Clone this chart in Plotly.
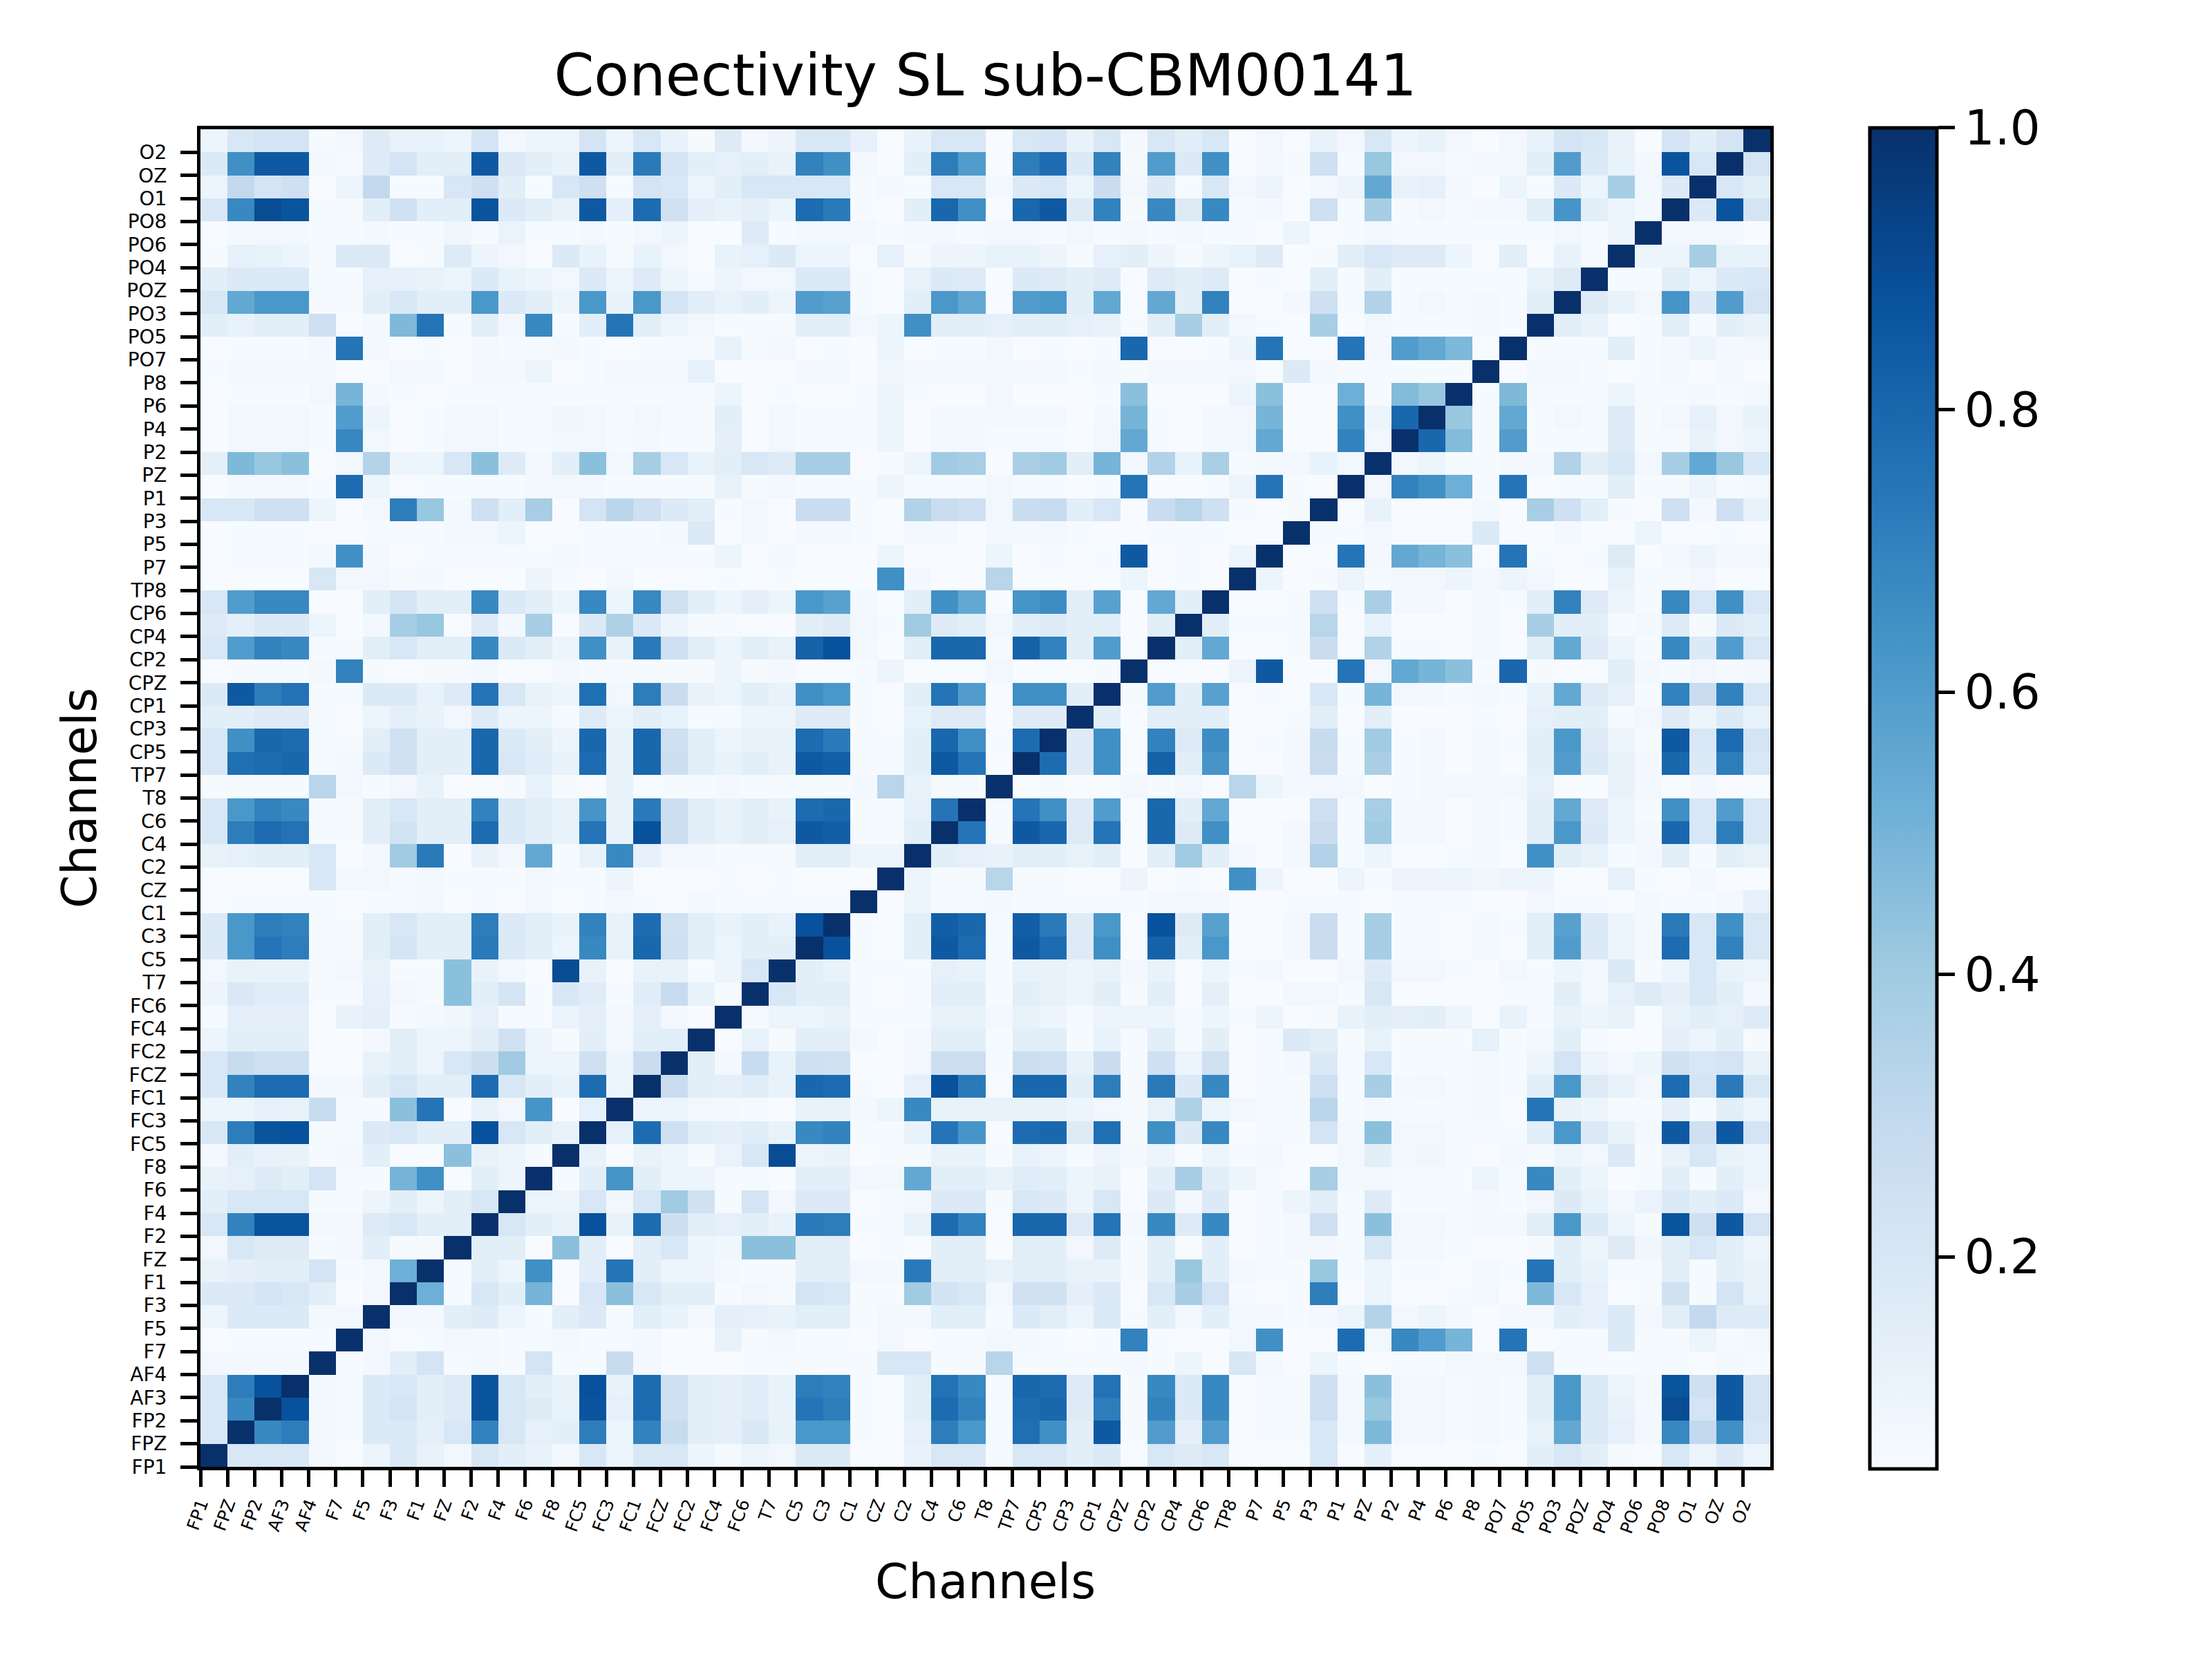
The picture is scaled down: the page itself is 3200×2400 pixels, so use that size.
import numpy as np
import plotly.graph_objects as go

channels = ["FP1", "FPZ", "FP2", "AF3", "AF4", "F7", "F5", "F3", "F1", "FZ", "F2", "F4", "F6", "F8",
            "FC5", "FC3", "FC1", "FCZ", "FC2", "FC4", "FC6", "T7", "C5", "C3", "C1", "CZ", "C2", "C4",
            "C6", "T8", "TP7", "CP5", "CP3", "CP1", "CPZ", "CP2", "CP4", "CP6", "TP8", "P7", "P5", "P3",
            "P1", "PZ", "P2", "P4", "P6", "P8", "PO7", "PO5", "PO3", "POZ", "PO4", "PO6", "PO8", "O1",
            "OZ", "O2"]

# Lower-triangle values: each row lists connectivity with all preceding channels
lt_FP1 = []
lt_FPZ = [0.20]
lt_FP2 = [0.20, 0.68]
lt_AF3 = [0.20, 0.72, 0.88]
lt_AF4 = [0.08, 0.07, 0.07, 0.07]
lt_F7 = [0.05, 0.06, 0.06, 0.06, 0.06]
lt_F5 = [0.10, 0.18, 0.18, 0.18, 0.07, 0.08]
lt_F3 = [0.18, 0.18, 0.22, 0.20, 0.15, 0.05, 0.08]
lt_F1 = [0.12, 0.14, 0.15, 0.15, 0.22, 0.06, 0.07, 0.52]
lt_FZ = [0.08, 0.20, 0.17, 0.17, 0.06, 0.08, 0.15, 0.06, 0.06]
lt_F2 = [0.20, 0.70, 0.87, 0.87, 0.07, 0.07, 0.17, 0.20, 0.15, 0.15]
lt_F4 = [0.15, 0.20, 0.20, 0.20, 0.06, 0.06, 0.10, 0.15, 0.10, 0.15, 0.20]
lt_F6 = [0.12, 0.13, 0.17, 0.15, 0.22, 0.06, 0.06, 0.50, 0.65, 0.05, 0.15, 0.10]
lt_F8 = [0.07, 0.15, 0.12, 0.12, 0.06, 0.08, 0.15, 0.05, 0.05, 0.45, 0.12, 0.10, 0.06]
lt_FC5 = [0.20, 0.72, 0.87, 0.88, 0.06, 0.06, 0.18, 0.20, 0.15, 0.15, 0.88, 0.20, 0.15, 0.12]
lt_FC3 = [0.10, 0.10, 0.13, 0.12, 0.28, 0.06, 0.06, 0.45, 0.75, 0.05, 0.12, 0.08, 0.63, 0.05, 0.13]
lt_FC1 = [0.20, 0.70, 0.78, 0.78, 0.07, 0.07, 0.15, 0.20, 0.15, 0.15, 0.78, 0.20, 0.15, 0.12, 0.78, 0.10]
lt_FCZ = [0.20, 0.28, 0.25, 0.25, 0.05, 0.05, 0.12, 0.15, 0.10, 0.20, 0.26, 0.40, 0.10, 0.10, 0.25, 0.10,
          0.27]
lt_FC2 = [0.10, 0.15, 0.15, 0.15, 0.05, 0.05, 0.07, 0.15, 0.10, 0.10, 0.15, 0.24, 0.10, 0.06, 0.15, 0.08,
          0.15, 0.15]
lt_FC4 = [0.06, 0.14, 0.14, 0.14, 0.05, 0.12, 0.14, 0.06, 0.07, 0.09, 0.13, 0.06, 0.06, 0.11, 0.14, 0.07,
          0.14, 0.07, 0.05]
lt_FC6 = [0.10, 0.19, 0.16, 0.16, 0.06, 0.06, 0.13, 0.08, 0.06, 0.45, 0.15, 0.22, 0.06, 0.20, 0.16, 0.06,
          0.16, 0.28, 0.12, 0.06]
lt_T7 = [0.08, 0.12, 0.12, 0.12, 0.06, 0.08, 0.12, 0.06, 0.06, 0.45, 0.12, 0.08, 0.05, 0.90, 0.12, 0.05,
         0.12, 0.12, 0.06, 0.10, 0.20]
lt_C5 = [0.18, 0.62, 0.75, 0.72, 0.06, 0.06, 0.15, 0.22, 0.15, 0.15, 0.73, 0.18, 0.15, 0.10, 0.68, 0.12,
         0.80, 0.25, 0.15, 0.10, 0.15, 0.15]
lt_C3 = [0.18, 0.62, 0.72, 0.70, 0.06, 0.06, 0.15, 0.20, 0.15, 0.15, 0.72, 0.18, 0.15, 0.12, 0.70, 0.12,
         0.78, 0.24, 0.15, 0.12, 0.15, 0.12, 0.88]
lt_C1 = [0.05, 0.06, 0.06, 0.06, 0.06, 0.05, 0.06, 0.06, 0.08, 0.05, 0.06, 0.05, 0.08, 0.05, 0.06, 0.07,
         0.06, 0.05, 0.07, 0.06, 0.06, 0.06, 0.06, 0.06]
lt_CZ = [0.05, 0.05, 0.05, 0.05, 0.20, 0.08, 0.08, 0.06, 0.07, 0.06, 0.06, 0.06, 0.08, 0.06, 0.06, 0.10,
         0.05, 0.05, 0.05, 0.06, 0.05, 0.06, 0.05, 0.05, 0.05]
lt_C2 = [0.12, 0.13, 0.15, 0.15, 0.20, 0.05, 0.07, 0.40, 0.73, 0.05, 0.12, 0.08, 0.55, 0.06, 0.12, 0.68,
         0.13, 0.08, 0.07, 0.06, 0.06, 0.06, 0.15, 0.15, 0.10, 0.10]
lt_C4 = [0.20, 0.72, 0.78, 0.76, 0.06, 0.06, 0.15, 0.23, 0.15, 0.15, 0.78, 0.18, 0.15, 0.12, 0.75, 0.12,
         0.88, 0.26, 0.15, 0.12, 0.15, 0.13, 0.85, 0.83, 0.06, 0.06, 0.15]
lt_C6 = [0.20, 0.62, 0.70, 0.68, 0.06, 0.06, 0.15, 0.20, 0.15, 0.15, 0.70, 0.18, 0.15, 0.12, 0.63, 0.12,
         0.73, 0.26, 0.15, 0.12, 0.15, 0.12, 0.78, 0.80, 0.06, 0.06, 0.13, 0.75]
lt_T8 = [0.06, 0.06, 0.06, 0.06, 0.33, 0.08, 0.06, 0.08, 0.12, 0.05, 0.05, 0.06, 0.12, 0.06, 0.05, 0.12,
         0.05, 0.06, 0.06, 0.07, 0.06, 0.06, 0.06, 0.06, 0.07, 0.33, 0.12, 0.06, 0.06]
lt_TP7 = [0.20, 0.77, 0.78, 0.80, 0.06, 0.07, 0.18, 0.24, 0.15, 0.15, 0.80, 0.20, 0.16, 0.12, 0.78, 0.12,
          0.80, 0.26, 0.15, 0.12, 0.15, 0.12, 0.85, 0.83, 0.06, 0.06, 0.15, 0.85, 0.75, 0.05]
lt_CP5 = [0.20, 0.65, 0.80, 0.78, 0.06, 0.06, 0.15, 0.24, 0.15, 0.15, 0.80, 0.18, 0.15, 0.10, 0.80, 0.12,
          0.80, 0.25, 0.15, 0.10, 0.12, 0.12, 0.78, 0.73, 0.06, 0.06, 0.15, 0.80, 0.65, 0.06, 0.78]
lt_CP3 = [0.15, 0.15, 0.17, 0.17, 0.06, 0.05, 0.10, 0.14, 0.12, 0.08, 0.17, 0.10, 0.10, 0.06, 0.17, 0.10,
          0.15, 0.12, 0.06, 0.06, 0.10, 0.10, 0.17, 0.17, 0.06, 0.05, 0.12, 0.17, 0.17, 0.05, 0.17, 0.17]
lt_CP1 = [0.18, 0.85, 0.72, 0.76, 0.06, 0.06, 0.18, 0.18, 0.12, 0.17, 0.75, 0.20, 0.12, 0.10, 0.77, 0.08,
          0.72, 0.27, 0.12, 0.10, 0.15, 0.12, 0.65, 0.62, 0.06, 0.05, 0.15, 0.75, 0.60, 0.05, 0.65, 0.65,
          0.15]
lt_CPZ = [0.05, 0.06, 0.06, 0.06, 0.07, 0.70, 0.06, 0.05, 0.06, 0.06, 0.07, 0.05, 0.05, 0.07, 0.06, 0.06,
          0.06, 0.06, 0.06, 0.10, 0.06, 0.07, 0.05, 0.05, 0.06, 0.10, 0.05, 0.05, 0.05, 0.08, 0.05, 0.05,
          0.05, 0.06]
lt_CP2 = [0.20, 0.60, 0.70, 0.68, 0.06, 0.06, 0.15, 0.20, 0.15, 0.15, 0.68, 0.18, 0.15, 0.10, 0.65, 0.12,
          0.73, 0.25, 0.15, 0.10, 0.15, 0.12, 0.82, 0.88, 0.07, 0.05, 0.15, 0.80, 0.80, 0.06, 0.82, 0.70,
          0.15, 0.60, 0.05]
lt_CP4 = [0.17, 0.14, 0.18, 0.18, 0.10, 0.05, 0.08, 0.38, 0.42, 0.05, 0.17, 0.07, 0.38, 0.05, 0.18, 0.36,
          0.18, 0.10, 0.06, 0.06, 0.05, 0.05, 0.15, 0.17, 0.08, 0.06, 0.40, 0.17, 0.15, 0.08, 0.15, 0.17,
          0.15, 0.15, 0.05, 0.15]
lt_CP6 = [0.20, 0.60, 0.68, 0.68, 0.05, 0.05, 0.15, 0.22, 0.15, 0.15, 0.68, 0.18, 0.15, 0.10, 0.68, 0.10,
          0.68, 0.24, 0.15, 0.10, 0.14, 0.10, 0.62, 0.58, 0.07, 0.05, 0.15, 0.65, 0.55, 0.05, 0.63, 0.66,
          0.15, 0.58, 0.05, 0.55, 0.15]
lt_TP8 = [0.05, 0.05, 0.05, 0.05, 0.20, 0.08, 0.08, 0.06, 0.07, 0.05, 0.05, 0.05, 0.10, 0.06, 0.05, 0.08,
          0.05, 0.05, 0.05, 0.06, 0.05, 0.06, 0.05, 0.05, 0.05, 0.65, 0.07, 0.05, 0.05, 0.33, 0.05, 0.05,
          0.05, 0.05, 0.10, 0.05, 0.06, 0.05]
lt_P7 = [0.05, 0.06, 0.06, 0.06, 0.07, 0.65, 0.07, 0.05, 0.06, 0.06, 0.06, 0.06, 0.06, 0.07, 0.06, 0.06,
         0.06, 0.06, 0.06, 0.10, 0.05, 0.07, 0.05, 0.05, 0.05, 0.10, 0.05, 0.05, 0.05, 0.10, 0.05, 0.06,
         0.05, 0.06, 0.85, 0.05, 0.06, 0.05, 0.10]
lt_P5 = [0.05, 0.06, 0.06, 0.06, 0.05, 0.05, 0.06, 0.06, 0.06, 0.07, 0.07, 0.10, 0.05, 0.05, 0.06, 0.06,
         0.06, 0.07, 0.18, 0.05, 0.08, 0.05, 0.07, 0.07, 0.06, 0.05, 0.07, 0.07, 0.05, 0.07, 0.07, 0.07,
         0.06, 0.05, 0.05, 0.06, 0.06, 0.06, 0.05, 0.05]
lt_P3 = [0.20, 0.20, 0.25, 0.25, 0.10, 0.05, 0.07, 0.72, 0.42, 0.07, 0.25, 0.15, 0.38, 0.05, 0.22, 0.32,
         0.25, 0.18, 0.15, 0.06, 0.08, 0.05, 0.27, 0.27, 0.06, 0.05, 0.35, 0.27, 0.25, 0.08, 0.27, 0.28,
         0.15, 0.20, 0.05, 0.27, 0.33, 0.25, 0.06, 0.05, 0.06]
lt_P1 = [0.05, 0.07, 0.07, 0.07, 0.06, 0.78, 0.10, 0.05, 0.06, 0.06, 0.06, 0.06, 0.07, 0.08, 0.07, 0.06,
         0.06, 0.06, 0.06, 0.12, 0.06, 0.08, 0.06, 0.06, 0.06, 0.10, 0.06, 0.06, 0.06, 0.08, 0.06, 0.06,
         0.05, 0.06, 0.75, 0.05, 0.05, 0.06, 0.10, 0.75, 0.06, 0.05]
lt_PZ = [0.14, 0.48, 0.42, 0.45, 0.05, 0.08, 0.34, 0.10, 0.10, 0.20, 0.45, 0.17, 0.08, 0.15, 0.45, 0.08,
         0.38, 0.20, 0.12, 0.15, 0.20, 0.17, 0.38, 0.38, 0.05, 0.06, 0.10, 0.40, 0.38, 0.05, 0.37, 0.40,
         0.15, 0.50, 0.08, 0.35, 0.12, 0.37, 0.06, 0.07, 0.08, 0.12, 0.08]
lt_P2 = [0.05, 0.08, 0.08, 0.08, 0.06, 0.68, 0.08, 0.05, 0.06, 0.08, 0.08, 0.06, 0.06, 0.08, 0.08, 0.06,
         0.07, 0.06, 0.06, 0.14, 0.05, 0.08, 0.06, 0.06, 0.06, 0.10, 0.05, 0.07, 0.07, 0.06, 0.06, 0.06,
         0.05, 0.08, 0.55, 0.06, 0.05, 0.07, 0.08, 0.55, 0.05, 0.05, 0.70, 0.08]
lt_P4 = [0.05, 0.08, 0.08, 0.08, 0.06, 0.60, 0.10, 0.05, 0.06, 0.07, 0.08, 0.06, 0.06, 0.09, 0.08, 0.06,
         0.08, 0.06, 0.06, 0.15, 0.05, 0.08, 0.06, 0.06, 0.06, 0.10, 0.05, 0.07, 0.07, 0.07, 0.07, 0.07,
         0.05, 0.07, 0.50, 0.06, 0.05, 0.07, 0.08, 0.50, 0.05, 0.05, 0.65, 0.10, 0.80]
lt_P6 = [0.05, 0.06, 0.06, 0.06, 0.08, 0.50, 0.07, 0.06, 0.05, 0.06, 0.06, 0.06, 0.06, 0.06, 0.06, 0.06,
         0.06, 0.06, 0.06, 0.10, 0.05, 0.06, 0.05, 0.05, 0.06, 0.10, 0.06, 0.05, 0.05, 0.08, 0.05, 0.05,
         0.05, 0.06, 0.45, 0.05, 0.05, 0.05, 0.10, 0.45, 0.05, 0.05, 0.52, 0.06, 0.47, 0.42]
lt_P8 = [0.06, 0.07, 0.07, 0.07, 0.08, 0.05, 0.05, 0.08, 0.07, 0.05, 0.07, 0.07, 0.10, 0.05, 0.06, 0.07,
         0.07, 0.07, 0.13, 0.05, 0.05, 0.05, 0.07, 0.07, 0.05, 0.09, 0.07, 0.07, 0.07, 0.07, 0.07, 0.07,
         0.06, 0.07, 0.06, 0.07, 0.07, 0.07, 0.08, 0.05, 0.18, 0.07, 0.06, 0.06, 0.06, 0.06, 0.06]
lt_PO7 = [0.05, 0.06, 0.06, 0.06, 0.07, 0.75, 0.07, 0.05, 0.06, 0.05, 0.07, 0.06, 0.06, 0.07, 0.06, 0.05,
          0.06, 0.06, 0.06, 0.12, 0.06, 0.08, 0.05, 0.06, 0.05, 0.10, 0.05, 0.06, 0.06, 0.08, 0.05, 0.06,
          0.05, 0.06, 0.80, 0.05, 0.05, 0.06, 0.10, 0.75, 0.05, 0.05, 0.75, 0.07, 0.60, 0.55, 0.48, 0.05]
lt_PO5 = [0.15, 0.12, 0.15, 0.15, 0.25, 0.05, 0.07, 0.48, 0.75, 0.06, 0.15, 0.08, 0.68, 0.06, 0.15, 0.75,
          0.15, 0.10, 0.08, 0.06, 0.06, 0.06, 0.15, 0.15, 0.08, 0.10, 0.65, 0.15, 0.15, 0.13, 0.15, 0.15,
          0.13, 0.12, 0.06, 0.15, 0.38, 0.15, 0.08, 0.06, 0.05, 0.38, 0.05, 0.08, 0.06, 0.06, 0.06, 0.07,
          0.06]
lt_PO3 = [0.20, 0.55, 0.62, 0.62, 0.06, 0.06, 0.15, 0.20, 0.15, 0.15, 0.62, 0.18, 0.15, 0.10, 0.62, 0.12,
          0.62, 0.22, 0.15, 0.12, 0.15, 0.10, 0.60, 0.58, 0.06, 0.05, 0.15, 0.62, 0.55, 0.05, 0.60, 0.62,
          0.15, 0.55, 0.05, 0.55, 0.15, 0.70, 0.05, 0.05, 0.07, 0.25, 0.06, 0.35, 0.06, 0.08, 0.06, 0.07,
          0.06, 0.15]
lt_POZ = [0.15, 0.18, 0.18, 0.18, 0.06, 0.06, 0.13, 0.13, 0.12, 0.10, 0.18, 0.12, 0.10, 0.08, 0.18, 0.10,
          0.17, 0.10, 0.06, 0.10, 0.08, 0.08, 0.18, 0.18, 0.06, 0.05, 0.12, 0.18, 0.17, 0.05, 0.18, 0.17,
          0.15, 0.17, 0.05, 0.17, 0.15, 0.17, 0.05, 0.06, 0.05, 0.15, 0.06, 0.15, 0.06, 0.06, 0.06, 0.06,
          0.06, 0.12, 0.17]
lt_PO4 = [0.06, 0.13, 0.12, 0.10, 0.06, 0.18, 0.18, 0.05, 0.06, 0.17, 0.10, 0.08, 0.05, 0.18, 0.12, 0.06,
          0.12, 0.08, 0.05, 0.12, 0.13, 0.18, 0.10, 0.10, 0.05, 0.13, 0.06, 0.10, 0.10, 0.12, 0.12, 0.10,
          0.06, 0.13, 0.15, 0.10, 0.06, 0.10, 0.12, 0.17, 0.05, 0.06, 0.15, 0.20, 0.17, 0.17, 0.10, 0.05,
          0.15, 0.05, 0.12, 0.06]
lt_PO6 = [0.05, 0.07, 0.07, 0.07, 0.06, 0.06, 0.07, 0.06, 0.06, 0.09, 0.06, 0.11, 0.06, 0.06, 0.07, 0.06,
          0.08, 0.10, 0.05, 0.05, 0.17, 0.06, 0.07, 0.07, 0.07, 0.06, 0.07, 0.07, 0.06, 0.07, 0.07, 0.06,
          0.08, 0.06, 0.07, 0.06, 0.07, 0.06, 0.06, 0.05, 0.10, 0.05, 0.06, 0.08, 0.06, 0.06, 0.06, 0.06,
          0.06, 0.06, 0.08, 0.06, 0.10]
lt_PO8 = [0.20, 0.68, 0.90, 0.87, 0.06, 0.06, 0.15, 0.24, 0.15, 0.15, 0.87, 0.18, 0.15, 0.12, 0.85, 0.14,
          0.78, 0.24, 0.14, 0.12, 0.14, 0.10, 0.78, 0.73, 0.06, 0.05, 0.15, 0.80, 0.65, 0.05, 0.80, 0.85,
          0.17, 0.70, 0.06, 0.68, 0.17, 0.68, 0.06, 0.07, 0.05, 0.25, 0.06, 0.38, 0.06, 0.08, 0.06, 0.07,
          0.07, 0.15, 0.63, 0.15, 0.10, 0.07]
lt_O1 = [0.10, 0.30, 0.22, 0.25, 0.05, 0.10, 0.30, 0.06, 0.06, 0.20, 0.25, 0.15, 0.06, 0.20, 0.25, 0.06,
         0.22, 0.20, 0.10, 0.15, 0.20, 0.20, 0.20, 0.20, 0.06, 0.07, 0.06, 0.20, 0.20, 0.07, 0.18, 0.20,
         0.10, 0.27, 0.08, 0.18, 0.06, 0.20, 0.08, 0.10, 0.05, 0.07, 0.10, 0.55, 0.12, 0.13, 0.07, 0.05,
         0.10, 0.06, 0.18, 0.10, 0.38, 0.08, 0.18]
lt_OZ = [0.18, 0.65, 0.85, 0.85, 0.07, 0.06, 0.17, 0.22, 0.15, 0.15, 0.85, 0.18, 0.15, 0.12, 0.85, 0.15,
         0.73, 0.22, 0.15, 0.13, 0.15, 0.12, 0.70, 0.65, 0.07, 0.05, 0.15, 0.72, 0.60, 0.05, 0.72, 0.78,
         0.18, 0.70, 0.06, 0.60, 0.18, 0.65, 0.05, 0.07, 0.06, 0.25, 0.06, 0.42, 0.08, 0.08, 0.06, 0.07,
         0.07, 0.15, 0.60, 0.18, 0.12, 0.07, 0.87, 0.20]
lt_O2 = [0.10, 0.20, 0.22, 0.22, 0.06, 0.08, 0.17, 0.12, 0.12, 0.10, 0.22, 0.08, 0.10, 0.10, 0.22, 0.10,
         0.20, 0.12, 0.06, 0.17, 0.07, 0.10, 0.20, 0.20, 0.13, 0.05, 0.12, 0.20, 0.20, 0.05, 0.20, 0.22,
         0.12, 0.20, 0.07, 0.20, 0.15, 0.20, 0.05, 0.08, 0.05, 0.12, 0.08, 0.20, 0.10, 0.12, 0.08, 0.05,
         0.08, 0.12, 0.22, 0.20, 0.12, 0.05, 0.22, 0.15, 0.22]

lower_rows = [lt_FP1, lt_FPZ, lt_FP2, lt_AF3, lt_AF4, lt_F7, lt_F5, lt_F3, lt_F1, lt_FZ, lt_F2, lt_F4,
              lt_F6, lt_F8, lt_FC5, lt_FC3, lt_FC1, lt_FCZ, lt_FC2, lt_FC4, lt_FC6, lt_T7, lt_C5, lt_C3,
              lt_C1, lt_CZ, lt_C2, lt_C4, lt_C6, lt_T8, lt_TP7, lt_CP5, lt_CP3, lt_CP1, lt_CPZ, lt_CP2,
              lt_CP4, lt_CP6, lt_TP8, lt_P7, lt_P5, lt_P3, lt_P1, lt_PZ, lt_P2, lt_P4, lt_P6, lt_P8,
              lt_PO7, lt_PO5, lt_PO3, lt_POZ, lt_PO4, lt_PO6, lt_PO8, lt_O1, lt_OZ, lt_O2]

colorbar_ticks = [0.2, 0.4, 0.6, 0.8, 1.0]

n = len(channels)
M = np.eye(n)
for i, vals in enumerate(lower_rows):
    assert len(vals) == i, (channels[i], len(vals))
    M[i, :i] = vals
    M[:i, i] = vals

blues = ["#f7fbff", "#deebf7", "#c6dbef", "#9ecae1", "#6baed6", "#4292c6", "#2171b5", "#08519c", "#08306b"]
colorscale = [[k / (len(blues) - 1), c] for k, c in enumerate(blues)]

W, H = 3200, 2400
LW = 5  # spine width
# plotly draws axis lines just outside the domain, so inset the domain by half a line
L, R, T, B = 279 + LW / 2, 2556 - LW / 2, 176.5 + LW / 2, 2116.5 - LW / 2
plot_w = R - L
plot_h = B - T
FONT = "DejaVu Sans"

centers = np.arange(n) + 0.5
fig = go.Figure(go.Heatmap(
    z=M, x=centers, y=centers,
    colorscale=colorscale, zmin=float(M.min()), zmax=float(M.max()),
    colorbar=dict(
        x=(2698 - L) / plot_w, xanchor="left", y=0.5, yanchor="middle",
        len=1940, lenmode="pixels", thickness=97, thicknessmode="pixels",
        xpad=0, ypad=0, outlinewidth=LW, outlinecolor="black",
        ticks="outside", ticklen=24, tickwidth=LW, tickcolor="black",
        tickvals=colorbar_ticks, ticktext=[f"{v:.1f}" for v in colorbar_ticks],
        tickfont=dict(family=FONT, size=69, color="black"),
    ),
))

axis_common = dict(
    range=[0, n], tickvals=list(range(n)), ticktext=channels,
    ticks="outside", ticklen=24, tickwidth=LW, tickcolor="black",
    showline=True, mirror=True, linewidth=LW, linecolor="black",
    showgrid=False, zeroline=False,
)
fig.update_xaxes(**axis_common, tickangle=-70, tickfont=dict(family=FONT, size=25, color="black"))
fig.update_yaxes(**axis_common, tickfont=dict(family=FONT, size=28, color="black"), ticklabelstandoff=14)

fig.update_layout(
    width=W, height=H,
    margin=dict(l=L, r=W - R, t=T, b=H - B, pad=0),
    paper_bgcolor="white", plot_bgcolor="white",
    font=dict(family=FONT, color="black"),
    title=dict(text="Conectivity SL sub-CBM00141", x=0.5, xref="paper", xanchor="center",
               y=1 - 101 / H, yref="container", yanchor="middle",
               font=dict(family=FONT, size=83, color="black")),
    annotations=[
        dict(text="Channels", xref="paper", yref="paper", x=0.5, y=-(2280 - B) / plot_h,
             xanchor="center", yanchor="middle", showarrow=False,
             font=dict(family=FONT, size=69, color="black")),
        dict(text="Channels", xref="paper", yref="paper", x=-(L - 106) / plot_w, y=0.5,
             xanchor="center", yanchor="middle", textangle=-90, showarrow=False,
             font=dict(family=FONT, size=69, color="black")),
    ],
)

fig.write_html("out.html")
